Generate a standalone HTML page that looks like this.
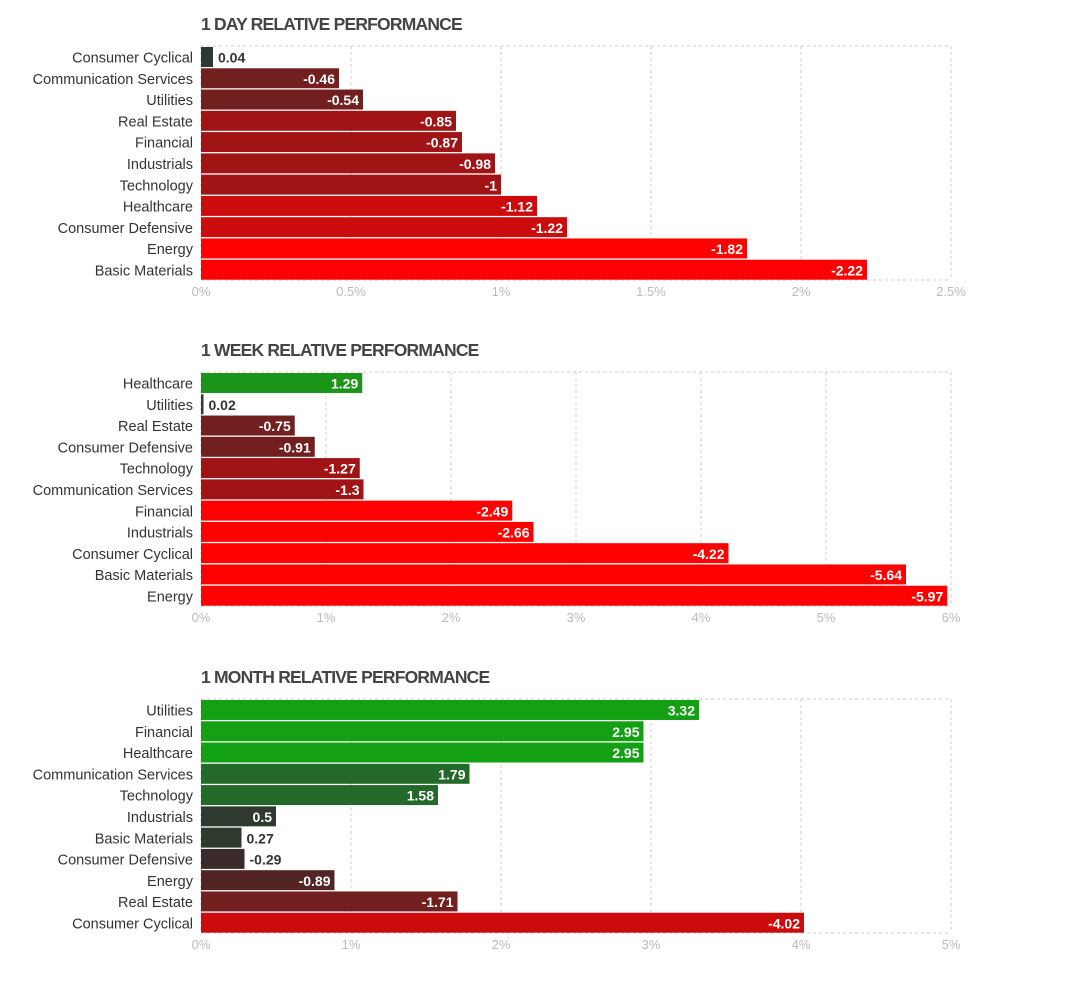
<!DOCTYPE html>
<html><head><meta charset="utf-8"><style>
body{margin:0;background:#fff;font-family:"Liberation Sans",sans-serif}
svg text{font-family:"Liberation Sans",sans-serif}
</style></head><body>
<svg id="c" width="1072" height="977" xmlns="http://www.w3.org/2000/svg"></svg>
<script>
const dayCats=["Consumer Cyclical","Communication Services","Utilities","Real Estate","Financial","Industrials","Technology","Healthcare","Consumer Defensive","Energy","Basic Materials"];
const dayVals=[0.04,-0.46,-0.54,-0.85,-0.87,-0.98,-1,-1.12,-1.22,-1.82,-2.22];
const dayTicks=["0%","0.5%","1%","1.5%","2%","2.5%"];
const dayMax=2.5;
const dayColors=["#2e3830","#721f20","#721f20","#a01416","#a01416","#a01416","#a01416","#cc0c0c","#cc0c0c","#ff0000","#ff0000"];
const weekCats=["Healthcare","Utilities","Real Estate","Consumer Defensive","Technology","Communication Services","Financial","Industrials","Consumer Cyclical","Basic Materials","Energy"];
const weekVals=[1.29,0.02,-0.75,-0.91,-1.27,-1.3,-2.49,-2.66,-4.22,-5.64,-5.97];
const weekTicks=["0%","1%","2%","3%","4%","5%","6%"];
const weekMax=6;
const weekColors=["#1a951a","#333833","#721f20","#721f20","#a01416","#a01416","#ff0000","#ff0000","#ff0000","#ff0000","#ff0000"];
const monthCats=["Utilities","Financial","Healthcare","Communication Services","Technology","Industrials","Basic Materials","Consumer Defensive","Energy","Real Estate","Consumer Cyclical"];
const monthVals=[3.32,2.95,2.95,1.79,1.58,0.5,0.27,-0.29,-0.89,-1.71,-4.02];
const monthTicks=["0%","1%","2%","3%","4%","5%"];
const monthMax=5;
const monthColors=["#13a013","#13a013","#13a013","#22692a","#22692a","#2d3a2d","#2d3a2d","#3a2a2a","#522424","#721f20","#cc0c0c"];

const svg=document.getElementById("c");
const NS="http://www.w3.org/2000/svg";
function mk(t,a,p){const e=document.createElementNS(NS,t);for(const k in a)e.setAttribute(k,a[k]);(p||svg).appendChild(e);return e;}
function chart(name,title,cats,vals,colors,ticks,max,top){
  const g=mk("g",{});
  
  
  const x0=201,x1=951,bottom=top+234;
  const xs=v=>x0+(Math.abs(v)/max)*(x1-x0);
  const t=mk("text",{x:201,y:top-16,"font-size":17.5,"font-weight":"bold",fill:"#444","letter-spacing":"-0.8"},g);
  t.textContent=title;
  
  
  mk("line",{x1:x0,x2:x1,y1:top,y2:top,stroke:"#ccc","stroke-dasharray":"3,3"},g);
  mk("line",{x1:x0,x2:x1,y1:bottom,y2:bottom,stroke:"#ccc","stroke-dasharray":"3,3"},g);
  ticks.forEach((tk,i)=>{
    const v=i*max/(ticks.length-1),x=xs(v);
    const gl=mk("line",{x1:x,x2:x,y1:top,y2:bottom,stroke:"#ccc","stroke-dasharray":"3,3"},g);
    
    
    const tl=mk("text",{x:x,y:bottom+16,"font-size":13,fill:"#bbb","text-anchor":"middle"},g);
    tl.textContent=tk;
    
    
  });
  const rh=234/cats.length;
  cats.forEach((c,i)=>{
    const y=top+1+i*rh,v=vals[i],w=xs(v)-x0;
    const lb=mk("text",{x:193,y:y+rh/2+5,"font-size":14.5,fill:"#333","text-anchor":"end"},g);
    lb.textContent=c;
    
    
    const b=mk("rect",{x:x0,y:y,width:Math.max(w,2),height:rh-1.3,fill:colors[i]},g);
    
    
    const inside=w>45;
    const vl=mk("text",{x:inside?x0+w-4:x0+w+5,y:y+rh/2+5,"font-size":14,"font-weight":"bold",fill:inside?"#fff":"#333","text-anchor":inside?"end":"start"},g);
    vl.textContent=String(v);
    
    
  });
}
chart("day-chart","1 DAY RELATIVE PERFORMANCE",dayCats,dayVals,dayColors,dayTicks,dayMax,46);
chart("week-chart","1 WEEK RELATIVE PERFORMANCE",weekCats,weekVals,weekColors,weekTicks,weekMax,372);
chart("month-chart","1 MONTH RELATIVE PERFORMANCE",monthCats,monthVals,monthColors,monthTicks,monthMax,699);
</script>
</body></html>
